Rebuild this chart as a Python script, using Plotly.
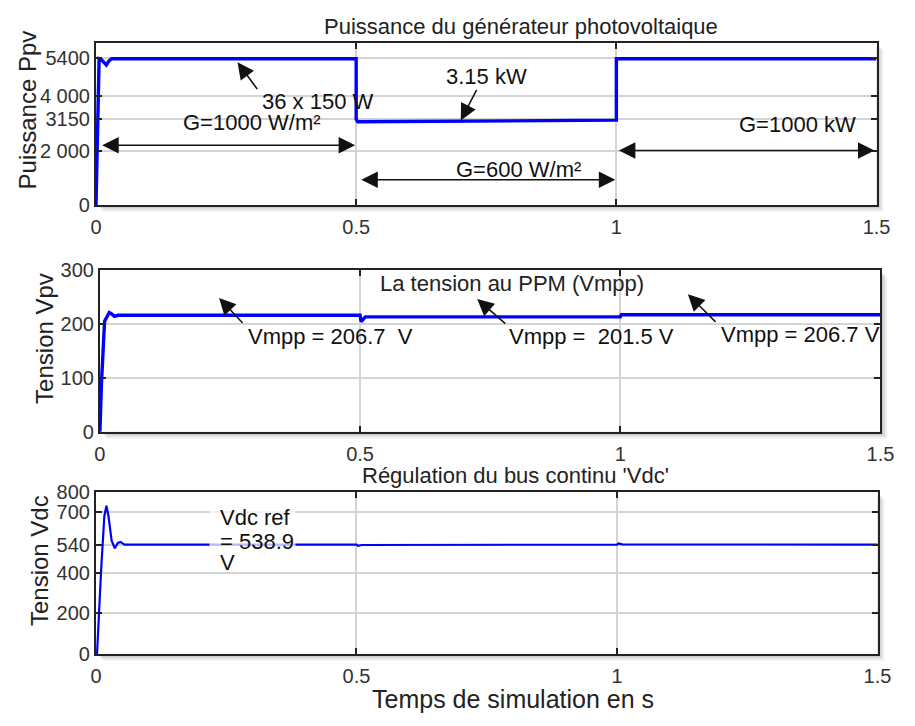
import plotly.graph_objects as go

W, H = 915, 726

# ---------------- data ----------------
t_p = [0, 0.002, 0.006, 0.010, 0.015, 0.020, 0.025, 0.030, 0.5, 0.5, 0.503, 1.0, 1.0, 1.5]
p_pv = [0, 2000, 5380, 5350, 5230, 5150, 5300, 5380, 5380, 3150, 3060, 3120, 5380, 5380]

t_v = [0, 0.003, 0.009, 0.013, 0.018, 0.022, 0.028, 0.035, 0.5, 0.502, 0.51, 1.0, 1.002, 1.5]
v_pv = [0, 90, 205, 212, 221, 219, 214, 216, 216, 204, 213, 213, 217, 217]

t_dc = [0, 0.002, 0.010, 0.016, 0.020, 0.024, 0.030, 0.036, 0.042, 0.047, 0.055, 0.5, 0.503, 0.51, 1.0, 1.003, 1.01, 1.5]
v_dc = [0, 0, 420, 680, 732, 680, 560, 522, 548, 553, 540, 540, 534, 538, 540, 546, 541, 540]

x_ticks = [0, 0.5, 1, 1.5]
x_ticktext = ["0", "0.5", "1", "1.5"]
y1_ticks = [0, 2000, 3150, 4000, 5400]
y1_ticktext = ["0", "2 000", "3150", "4 000", "5400"]
y2_ticks = [0, 100, 200, 300]
y3_ticks = [0, 200, 400, 540, 700, 800]

# ---------------- layout helpers ----------------
panels = {  # pixel boxes: x0, x1, y0(top), y1(bottom)
    1: (92, 890, 33, 200),
    2: (96, 894, 267, 434),
    3: (92, 891, 496, 663),
}

def px(x):
    return x / W

def py(y):
    return 1 - y / H

FONT = "Liberation Sans, Arial"
fig = go.Figure()
blue = "#0000ff"
fig.add_trace(go.Scatter(x=t_p, y=p_pv, mode="lines", line=dict(color=blue, width=3.4),
                         xaxis="x", yaxis="y", showlegend=False))
fig.add_trace(go.Scatter(x=t_v, y=v_pv, mode="lines", line=dict(color=blue, width=3.4),
                         xaxis="x2", yaxis="y2", showlegend=False))
fig.add_trace(go.Scatter(x=t_dc, y=v_dc, mode="lines", line=dict(color=blue, width=2.2),
                         xaxis="x3", yaxis="y3", showlegend=False))

tickfont = dict(family=FONT, size=20, color="#333")
common_x = dict(range=[0, 1.5], tickvals=x_ticks, ticktext=x_ticktext, showgrid=True,
                gridcolor="#d4d4d4", gridwidth=1.5, showline=True, linecolor="#222",
                linewidth=2, mirror="ticks", ticks="inside", ticklen=6, tickwidth=2,
                tickcolor="#222", tickfont=tickfont, zeroline=False, ticklabelstandoff=3)
common_y = dict(showgrid=True, gridcolor="#d4d4d4", gridwidth=1.5, showline=True,
                linecolor="#222", linewidth=2, mirror="ticks", ticks="inside", ticklen=6,
                tickwidth=2, tickcolor="#222", tickfont=tickfont, zeroline=False,
                ticklabelstandoff=0)

layout = dict(width=W, height=H, margin=dict(l=0, r=0, t=0, b=0),
              paper_bgcolor="white", plot_bgcolor="rgba(0,0,0,0)",
              font=dict(family=FONT, color="#222"))

yvals = {1: (y1_ticks, y1_ticktext, [0, 5960]),
         2: (y2_ticks, [str(v) for v in y2_ticks], [0, 300]),
         3: (y3_ticks, [str(v) for v in y3_ticks], [0, 800])}
shapes = []
for k, (x0, x1, y0, y1) in panels.items():
    sx = "" if k == 1 else str(k)
    layout["xaxis" + sx] = dict(common_x, domain=[px(x0), px(x1)], anchor="y" + sx)
    tv, tt, rg = yvals[k]
    layout["yaxis" + sx] = dict(common_y, domain=[py(y1), py(y0)], anchor="x" + sx,
                               range=rg, tickvals=tv, ticktext=tt)
    # drop shadow
    for off, op in [(7, 0.06), (5, 0.08), (3, 0.10)]:
        shapes.append(dict(type="rect", xref="paper", yref="paper", layer="below",
                           x0=px(x0 + off), x1=px(x1 + off), y0=py(y1 + off), y1=py(y0 + off),
                           line=dict(width=0), fillcolor=f"rgba(0,0,0,{op})"))
    shapes.append(dict(type="rect", xref="paper", yref="paper", layer="below",
                       x0=px(x0), x1=px(x1), y0=py(y1), y1=py(y0),
                       line=dict(width=0), fillcolor="white"))
# translucent backing behind the "Vdc ref" text block
shapes.append(dict(type="rect", xref="paper", yref="paper", layer="above",
                   x0=px(208), x1=px(296), y0=py(574), y1=py(510),
                   line=dict(width=0), fillcolor="rgba(255,255,255,0.72)"))
layout["shapes"] = shapes

ann = []
tf = dict(family=FONT, size=22, color="#111")

def ptext(text, x, y, size=20, angle=0):
    ann.append(dict(text=text, x=px(x), y=py(y), xref="paper", yref="paper",
                    showarrow=False, xanchor="center", yanchor="middle", textangle=angle,
                    font=dict(family=FONT, size=size, color="#222")))

# titles
ptext("Puissance du générateur photovoltaique", 526, 16, 22)
ptext("La tension au PPM (Vmpp)", 517, 281, 22)
ptext("Régulation du bus continu 'Vdc'", 521, 479, 22)
ptext("Temps de simulation en s", 518, 709, 25)
ptext("Puissance Ppv", 22, 102, 24, -90)
ptext("Tension Vpv", 40, 338, 24, -90)
ptext("Tension Vdc", 35, 567, 24, -90)

def dtext(text, x, y, k, xanchor="center"):
    sx = "" if k == 1 else str(k)
    ann.append(dict(text=text, x=x, y=y, xref="x" + sx, yref="y" + sx, showarrow=False,
                    xanchor=xanchor, yanchor="middle", font=tf))

def arrow(x, y, ax, ay, k, both=False):
    sx = "" if k == 1 else str(k)
    ann.append(dict(text="", x=x, y=y, ax=ax, ay=ay, xref="x" + sx, yref="y" + sx,
                    axref="x" + sx, ayref="y" + sx, showarrow=True, arrowhead=2,
                    arrowsize=2.2, arrowwidth=1.5, arrowcolor="#111",
                    arrowside="end+start" if both else "end"))

# panel 1
dtext("36 x 150 W", 0.427, 3820, 1)
arrow(0.272, 5250, 0.312, 4210, 1)
dtext("G=1000 W/m²", 0.299, 3040, 1)
arrow(0.498, 2200, 0.009, 2200, 1, both=True)
dtext("3.15 kW", 0.75, 4710, 1)
arrow(0.701, 3110, 0.733, 4290, 1)
dtext("G=600 W/m²", 0.812, 1320, 1)
arrow(0.998, 930, 0.507, 930, 1, both=True)
dtext("G=1000 kW", 1.348, 2960, 1)
arrow(1.496, 2000, 1.002, 2000, 1, both=True)

# panel 2
dtext("Vmpp = 206.7  V", 0.444, 176, 2)
arrow(0.229, 248, 0.277, 199, 2)
dtext("Vmpp =  201.5 V", 0.945, 176, 2)
arrow(0.725, 246, 0.782, 198, 2)
dtext("Vmpp = 206.7 V", 1.346, 181, 2)
arrow(1.13, 255, 1.186, 201, 2)

# panel 3
dtext("Vdc ref", 0.2345, 672, 3, xanchor="left")
dtext("= 538.9", 0.2345, 557, 3, xanchor="left")
dtext("V", 0.2345, 450, 3, xanchor="left")

layout["annotations"] = ann
fig.update_layout(**layout)
fig.write_html("out.html")
